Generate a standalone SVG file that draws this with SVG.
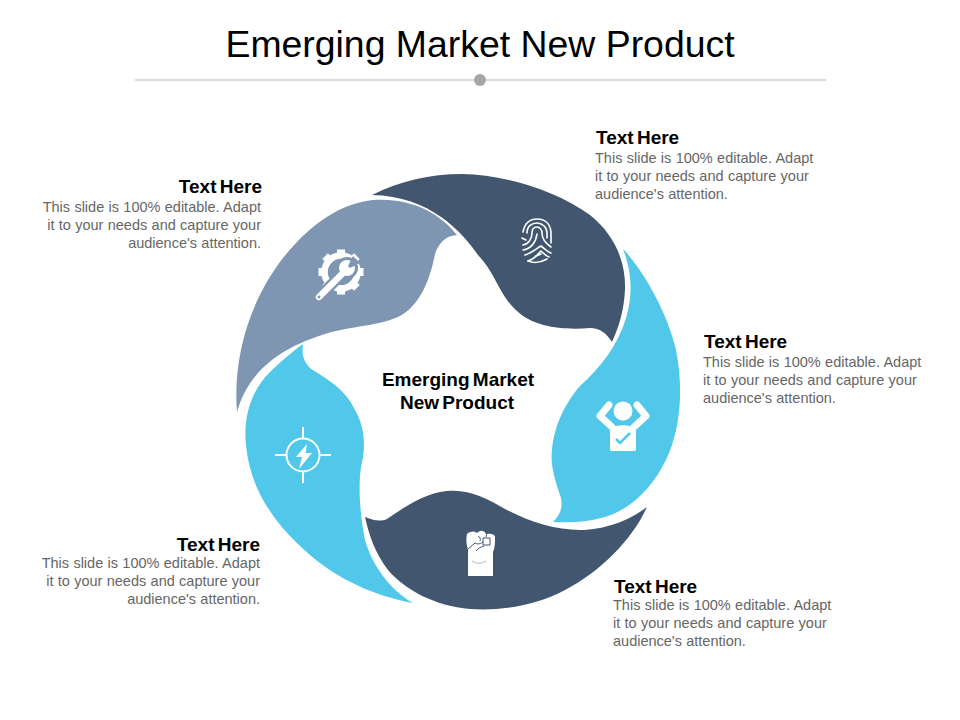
<svg xmlns="http://www.w3.org/2000/svg" width="960" height="720" viewBox="0 0 960 720">
<style>
text{font-family:"Liberation Sans",Arial,sans-serif}
.title{font-size:37.4px;fill:#000}
.head{font-size:19px;font-weight:700;fill:#000;word-spacing:-2px}
.body{font-size:14.5px;fill:#666;word-spacing:.3px}
.end{text-anchor:end}
.dark{fill:#42576f}.light{fill:#51c8ea}.steel{fill:#7f96b2}
.ln{fill:none;stroke:#fff;stroke-width:1.6;stroke-linecap:round;stroke-linejoin:round}
.ic{fill:#fff}
</style>
<rect width="960" height="720" fill="#fff"/>
<g id="header">
<text class="title" x="480" y="57" text-anchor="middle">Emerging Market New Product</text>
<line x1="135" y1="80" x2="826" y2="80" stroke="#b5b5b5" stroke-width="1"/>
<circle cx="480" cy="80" r="6" fill="#a6a6a6"/>
</g>
<g id="node-tools">
<path class="steel" d="M237,412C232,350 255,285 297,242C320,218 345,203 373,200C410,197 440,213 457,235C445,236 439,243 435,254C430,280 420,305 400,316C380,326 350,326 325,334C290,345 250,365 237,412Z"/>
<g transform="translate(341 272)">
<circle r="16.500" fill="none" stroke="#fff" stroke-width="6.500"/>
<g class="ic"><rect x="-4" y="-22.500" width="8" height="9"/><rect x="-4" y="-22.500" width="8" height="9" transform="rotate(45)"/><rect x="-4" y="-22.500" width="8" height="9" transform="rotate(90)"/><rect x="-4" y="-22.500" width="8" height="9" transform="rotate(135)"/><rect x="-4" y="-22.500" width="8" height="9" transform="rotate(180)"/><rect x="-4" y="-22.500" width="8" height="9" transform="rotate(225)"/><rect x="-4" y="-22.500" width="8" height="9" transform="rotate(270)"/><rect x="-4" y="-22.500" width="8" height="9" transform="rotate(315)"/></g>
<path d="M-22,25L0,3" stroke="#7f96b2" stroke-width="11" fill="none"/>
<circle cx="6" cy="-4" r="11" class="steel"/>
<path d="M-22,25L1,2" stroke="#fff" stroke-width="6.500" stroke-linecap="round" fill="none"/>
<circle cx="6" cy="-4" r="8" class="ic"/>
<path d="M7,-6L12,-16L19,-9L9,-4Z" class="steel"/>
<circle cx="-22" cy="25" r="1.400" class="steel"/>
</g>
</g>
<g id="node-fingerprint">
<path class="dark" d="M372,195C400,181 430,174 462,174C505,175 555,190 590,215C615,235 626,262 625,290C624,310 619,327 612,342C606,333 600,328 590,328C565,330 535,328 517,311C500,297 495,272 478,255C462,232 430,196 372,195Z"/>
<path class="ln" d="M523,232C525,222 531,219 537,219C544,219 550,223 551,232V243"/>
<path class="ln" d="M522,238L526,240M527,233C527,226 532,223 537,223C542,223 547,227 547,233V238"/>
<path class="ln" d="M523,245C529,244 532,238 532,233C532,229 534,227 537,227C540,227 542,230 542,233C542,238 545,243 551,247"/>
<path class="ln" d="M523,250C531,249 536,242 537,234"/>
<path class="ln" d="M525,255C532,253 537,248 541,246C545,249 548,252 551,253"/>
<path class="ln" d="M528,261C535,259 538,254 541,251C544,254 546,256 549,257"/>
<path class="ln" d="M528,261C533,263 540,263 547,259"/>
<path class="ln" d="M536,256L541,254"/>
</g>
<g id="node-person">
<path class="light" d="M623,249C645,272 668,315 676,350C682,380 682,415 672,445C660,480 635,508 605,517C588,522 570,523 553,522C560,515 563,508 561,498C555,480 550,465 552,450C554,425 566,402 580,386C600,368 618,345 626,318C633,295 632,272 623,249Z"/>
<circle cx="623" cy="411" r="9.500" class="ic"/>
<path d="M609,405L600,416L612,427M637,405L646,416L634,427" fill="none" stroke="#fff" stroke-width="7" stroke-linecap="round" stroke-linejoin="round"/>
<path class="ic" d="M610,427L623,425L636,427V449C636,450.500 635,451 634,451H612C611,451 610,450.500 610,449Z"/>
<path d="M616,439L620,443L630,433" fill="none" stroke="#51c8ea" stroke-width="2.500"/>
</g>
<g id="node-fist">
<path class="dark" d="M365,517C372,520 380,522 387,519C400,510 420,496 440,492C465,487 485,497 505,509C530,522 555,530 580,530C605,530 630,520 647,507C632,540 600,572 565,590C535,606 500,611 470,609C435,606 405,590 388,570C375,553 369,535 365,517Z"/>
<path class="ic" d="M468,576V550C466,544 466,538 467,534C471,531 474,531 477,533C480,530 484,530 486,534C490,533 495,534 495,537C495,543 495,548 493,552V576Z"/>
<path d="M468,549L475,543C479,545 481,543 483,542M483,538H490V545H483ZM478,536C480,537 481,539 480,541M487,533L486,537M476,551C478,548 481,547 484,546" fill="none" stroke="#42576f" stroke-width="1"/>
<path d="M472,561C476,564 481,564 486,561" fill="none" stroke="#8a98a8" stroke-width=".7"/>
</g>
<g id="node-bolt">
<path class="light" d="M303,344C302,352 302,360 310,368C325,378 345,388 355,410C364,425 366,445 362,462C358,480 359,510 365,540C372,565 390,590 413,603C385,598 345,585 310,555C275,525 250,490 246,445C243,415 252,390 270,372C280,362 292,352 303,344Z"/>
<circle cx="303" cy="455" r="16.500" fill="none" stroke="#fff" stroke-width="2"/>
<path d="M275,455H286M320,455H331M303,427V438M303,472V483" stroke="#fff" stroke-width="2" fill="none"/>
<path class="ic" d="M307,444L296,457H302L299,469L312,453H305.500Z"/>
</g>
<g id="center-label">
<text class="head" x="458" y="386" text-anchor="middle">Emerging Market</text>
<text class="head" x="457" y="409" text-anchor="middle">New Product</text>
</g>
<g id="text-left">
<text class="head end" x="262" y="193">Text Here</text>
<text class="body end" x="261" y="212">This slide is 100% editable. Adapt</text>
<text class="body end" x="261" y="230">it to your needs and capture your</text>
<text class="body end" x="261" y="248">audience's attention.</text>
</g>
<g id="text-top">
<text class="head" x="596" y="144">Text Here</text>
<text class="body" x="595" y="163">This slide is 100% editable. Adapt</text>
<text class="body" x="595" y="181">it to your needs and capture your</text>
<text class="body" x="595" y="199">audience's attention.</text>
</g>
<g id="text-right">
<text class="head" x="704" y="348">Text Here</text>
<text class="body" x="703" y="367">This slide is 100% editable. Adapt</text>
<text class="body" x="703" y="385">it to your needs and capture your</text>
<text class="body" x="703" y="403">audience's attention.</text>
</g>
<g id="text-bottom">
<text class="head" x="614" y="593">Text Here</text>
<text class="body" x="613" y="610">This slide is 100% editable. Adapt</text>
<text class="body" x="613" y="628">it to your needs and capture your</text>
<text class="body" x="613" y="646">audience's attention.</text>
</g>
<g id="text-bottom-left">
<text class="head end" x="260" y="551">Text Here</text>
<text class="body end" x="260" y="568">This slide is 100% editable. Adapt</text>
<text class="body end" x="260" y="586">it to your needs and capture your</text>
<text class="body end" x="260" y="604">audience's attention.</text>
</g>
</svg>
